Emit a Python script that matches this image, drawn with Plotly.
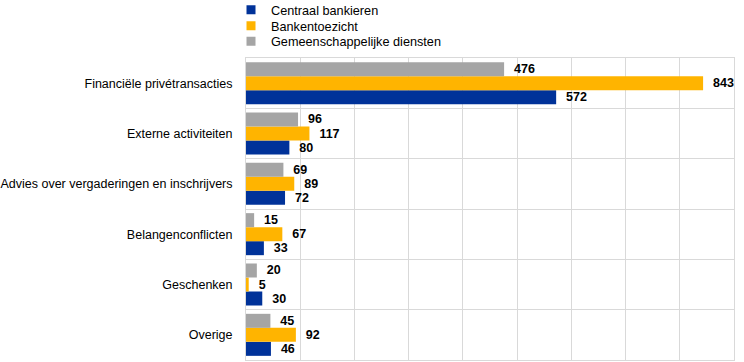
import plotly.graph_objects as go

categories = ["Financiële privétransacties", "Externe activiteiten",
              "Advies over vergaderingen en inschrijvers", "Belangenconflicten",
              "Geschenken", "Overige"]
centraal_bankieren = [572, 80, 72, 33, 30, 46]
bankentoezicht = [843, 117, 89, 67, 5, 92]
gemeenschappelijk = [476, 96, 69, 15, 20, 45]

series_names = ["Centraal bankieren", "Bankentoezicht", "Gemeenschappelijke diensten"]
series_values = [centraal_bankieren, bankentoezicht, gemeenschappelijk]
series_colors = ["#003299", "#FFB400", "#A5A5A5"]
legend_ids = ["legend", "legend2", "legend3"]

fig = go.Figure()
for name, vals, color in zip(series_names, series_values, series_colors):
    fig.add_trace(go.Bar(
        y=categories, x=vals, name=name, orientation="h",
        marker=dict(color=color, line=dict(width=0)),
        text=["\u00a0\u00a0" + str(v) for v in vals],
        textposition="outside",
        textfont=dict(family="Liberation Sans, Arial", size=12.5, color="#000000", weight="bold"),
        cliponaxis=False, showlegend=False,
        hoverinfo="skip",
    ))

# legend-only markers
for name, color, lid in zip(series_names, series_colors, legend_ids):
    fig.add_trace(go.Scatter(
        x=[None], y=[None], mode="markers", name=name, legend=lid,
        marker=dict(symbol="square", size=9, color=color),
        showlegend=True, hoverinfo="skip",
    ))

# legend centers (paper coords)
H_PLOT = 362 - 58 - 2
legend_y = [(360 - 10) / H_PLOT, (360 - 26) / H_PLOT, (360 - 41.5) / H_PLOT]
legend_x = (231 - 246) / 488

grid = "#D9D9D9"
legend_common = dict(x=legend_x, xanchor="left", yanchor="middle",
                     font=dict(size=12.7, color="#000000"),
                     bgcolor="rgba(0,0,0,0)", borderwidth=0, itemwidth=30)
fig.update_layout(
    width=744, height=362,
    margin=dict(l=246, r=10, t=58, b=2, autoexpand=False),
    barmode="group", bargap=0.165, bargroupgap=0,
    plot_bgcolor="white", paper_bgcolor="white",
    font=dict(family="Liberation Sans, Arial", size=12, color="#000000"),
    legend=dict(y=legend_y[0], **legend_common),
    legend2=dict(y=legend_y[1], **legend_common),
    legend3=dict(y=legend_y[2], **legend_common),
    xaxis=dict(range=[0, 900], dtick=100, showticklabels=False, showgrid=True,
               gridcolor=grid, gridwidth=1, zeroline=False,
               showline=True, linecolor=grid, linewidth=1, mirror=True, fixedrange=True),
    yaxis=dict(categoryorder="array", categoryarray=list(reversed(categories)),
               showgrid=True, gridcolor=grid, gridwidth=1, tickson="boundaries",
               ticks="", ticklabelstandoff=10, tickfont=dict(size=12.5),
               showline=True, linecolor=grid, linewidth=1, mirror=True, fixedrange=True),
)

fig.write_html("out.html", config={"displayModeBar": False},
               post_script="document.body.style.margin='0px';")
